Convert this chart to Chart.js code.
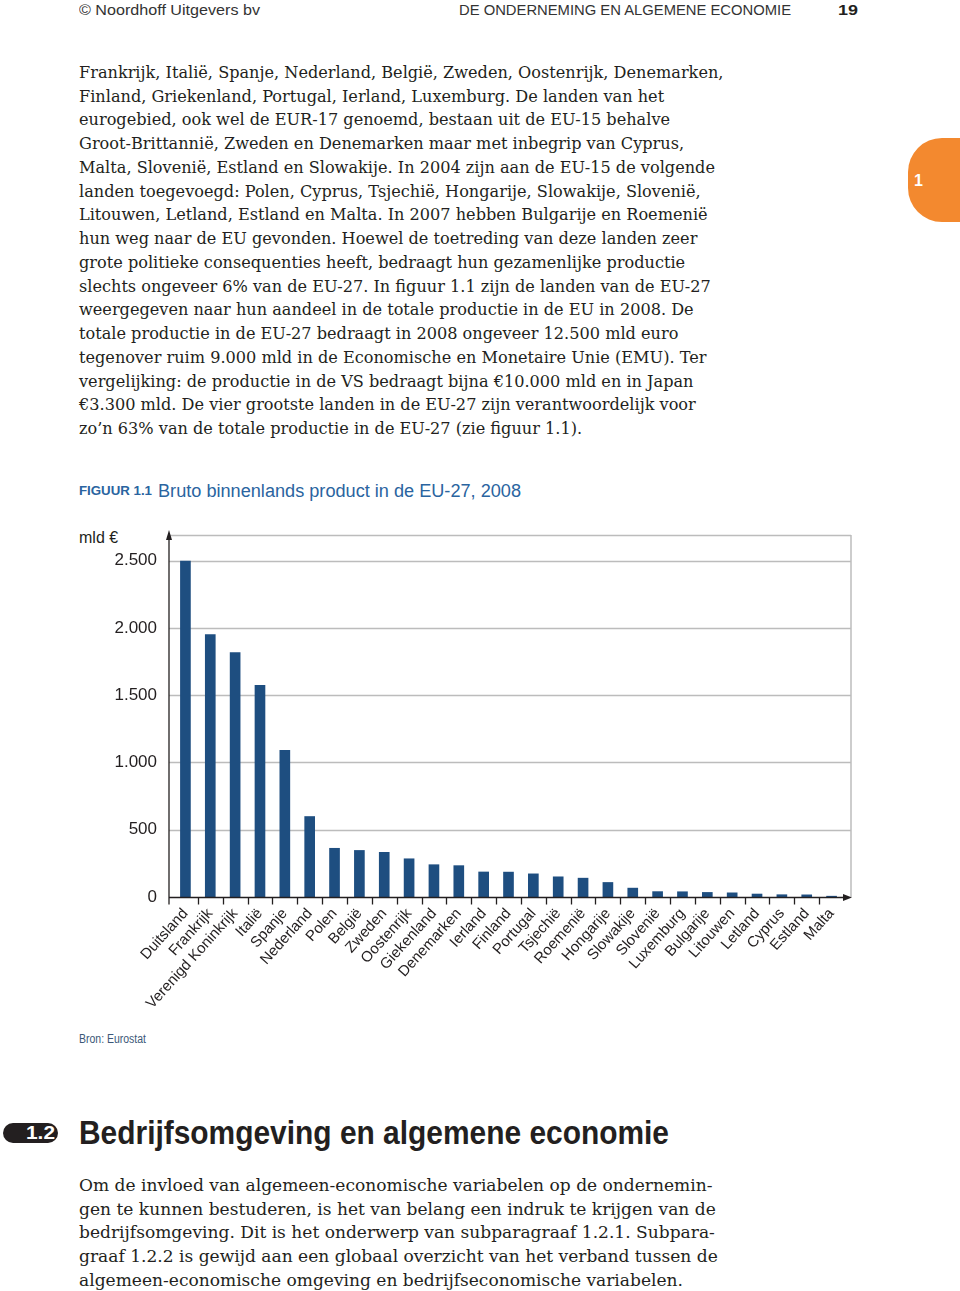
<!DOCTYPE html>
<html>
<head>
<meta charset="utf-8">
<script src="https://cdn.jsdelivr.net/npm/chart.js@4.4.1/dist/chart.umd.min.js"></script>
<style>
  body { margin: 0; width: 960px; height: 1291px; position: relative; background: #fff; overflow: hidden; color: #231f20; }
  .abs { position: absolute; white-space: nowrap; }
  .sans { font-family: "Liberation Sans", Arial, sans-serif; }
  .hdr { font-size: 15px; line-height: 20px; top: 0; color: #333; transform-origin: left center; }
  .body { font-family: "DejaVu Serif", serif; font-size: 15.5px; line-height: 23.73px; left: 79px; color: #231f20; }
  .body div { white-space: nowrap; }
  .tab { left: 908px; top: 138px; width: 70px; height: 84px; background: #f3892f; border-radius: 34px 0 0 34px; }
  .tab span { position: absolute; left: 6px; top: 34px; color: #fff; font: bold 16px "Liberation Sans", Arial, sans-serif; }
  .cap { line-height: 22px; top: 480px; color: #2a64a0; transform-origin: left center; }
  .badge { left: 3px; top: 1123px; width: 55px; height: 20px; background: #231f20; border-radius: 10px; }
  .badge span { position: absolute; left: 23px; top: 0; line-height: 20px; color: #fff; font: bold 18px "Liberation Sans", Arial, sans-serif; transform-origin: left center; }
  #wrap { position: absolute; left: 60px; top: 509px; width: 820px; height: 505px; }
</style>
</head>
<body>

<div class="abs sans hdr" style="left:79px" data-w="181">© Noordhoff Uitgevers bv</div>
<div class="abs sans hdr" style="left:459px" data-w="332">DE ONDERNEMING EN ALGEMENE ECONOMIE</div>
<div class="abs sans hdr" style="left:838px;font-weight:bold;color:#231f20" data-w="20">19</div>

<div class="abs body" id="p1" style="top:61px">
  <div data-w="645">Frankrijk, Italië, Spanje, Nederland, België, Zweden, Oostenrijk, Denemarken,</div>
  <div>Finland, Griekenland, Portugal, Ierland, Luxemburg. De landen van het</div>
  <div>eurogebied, ook wel de EUR-17 genoemd, bestaan uit de EU-15 behalve</div>
  <div>Groot-Brittannië, Zweden en Denemarken maar met inbegrip van Cyprus,</div>
  <div>Malta, Slovenië, Estland en Slowakije. In 2004 zijn aan de EU-15 de volgende</div>
  <div>landen toegevoegd: Polen, Cyprus, Tsjechië, Hongarije, Slowakije, Slovenië,</div>
  <div>Litouwen, Letland, Estland en Malta. In 2007 hebben Bulgarije en Roemenië</div>
  <div>hun weg naar de EU gevonden. Hoewel de toetreding van deze landen zeer</div>
  <div>grote politieke consequenties heeft, bedraagt hun gezamenlijke productie</div>
  <div>slechts ongeveer 6% van de EU-27. In figuur 1.1 zijn de landen van de EU-27</div>
  <div>weergegeven naar hun aandeel in de totale productie in de EU in 2008. De</div>
  <div>totale productie in de EU-27 bedraagt in 2008 ongeveer 12.500 mld euro</div>
  <div>tegenover ruim 9.000 mld in de Economische en Monetaire Unie (EMU). Ter</div>
  <div>vergelijking: de productie in de VS bedraagt bijna €10.000 mld en in Japan</div>
  <div>€3.300 mld. De vier grootste landen in de EU-27 zijn verantwoordelijk voor</div>
  <div>zo’n 63% van de totale productie in de EU-27 (zie figuur 1.1).</div>
</div>

<div class="abs tab"><span>1</span></div>

<div class="abs sans cap" style="left:79px;font-size:13px;font-weight:bold" data-w="73">FIGUUR 1.1</div>
<div class="abs sans cap" style="left:158px;font-size:18px" data-w="363">Bruto binnenlands product in de EU-27, 2008</div>

<div class="abs sans" style="left:79px;top:528px;font-size:16px;line-height:20px;color:#231f20">mld €</div>

<div id="wrap"><canvas id="gdpChart" width="820" height="505"></canvas></div>

<div class="abs sans" style="left:79px;top:1031px;font-size:12px;line-height:16px;color:#3b5878;transform-origin:left center" data-w="67">Bron: Eurostat</div>

<div class="abs badge"><span data-w="29">1.2</span></div>
<div class="abs sans" style="left:79px;top:1112px;font-size:34px;line-height:40px;font-weight:bold;color:#231f20;transform-origin:left center" data-w="590">Bedrijfsomgeving en algemene economie</div>

<div class="abs body" id="p2" style="top:1174px">
  <div data-w="634">Om de invloed van algemeen-economische variabelen op de ondernemin-</div>
  <div>gen te kunnen bestuderen, is het van belang een indruk te krijgen van de</div>
  <div>bedrijfsomgeving. Dit is het onderwerp van subparagraaf 1.2.1. Subpara-</div>
  <div>graaf 1.2.2 is gewijd aan een globaal overzicht van het verband tussen de</div>
  <div>algemeen-economische omgeving en bedrijfseconomische variabelen.</div>
</div>

<script>
const countries = ["Duitsland", "Frankrijk", "Verenigd Koninkrijk", "Italië", "Spanje", "Nederland",
  "Polen", "België", "Zweden", "Oostenrijk", "Giekenland", "Denemarken", "Ierland", "Finland",
  "Portugal", "Tsjechië", "Roemenië", "Hongarije", "Slowakije", "Slovenië", "Luxemburg",
  "Bulgarije", "Litouwen", "Letland", "Cyprus", "Estland", "Malta"];
const gdp = [2496, 1950, 1816, 1572, 1090, 598, 362, 346, 332, 284, 240, 233, 186, 185,
  172, 150, 140, 108, 66, 40, 39, 34, 31, 22, 17, 16, 6];
const yTicks = [0, 500, 1000, 1500, 2000, 2500];
const yMax = 2690;

// scale the text blocks to the widths measured on the page
document.querySelectorAll('[data-w]').forEach(function (el) {
  if (el.parentElement.classList.contains('body')) return;
  const w = el.getBoundingClientRect().width;
  el.style.transform = 'scaleX(' + (el.dataset.w / w) + ')';
});
['p1', 'p2'].forEach(function (id) {
  const block = document.getElementById(id);
  const first = block.querySelector('[data-w]');
  first.style.display = 'inline-block';
  const fs = parseFloat(getComputedStyle(block).fontSize);
  const w = first.getBoundingClientRect().width;
  block.style.fontSize = (fs * first.dataset.w / w) + 'px';
  first.style.display = '';
});

function fmt(v) {
  return String(v).replace(/\B(?=(\d{3})+(?!\d))/g, '.');
}

const axisPlugin = {
  id: 'bookAxes',
  beforeDatasetsDraw(chart) {
    const c = chart.ctx, a = chart.chartArea, y = chart.scales.y;
    const x0 = a.left - 4, x1 = a.right + 7;
    c.save();
    c.strokeStyle = '#bcbcbc';
    c.lineWidth = 1.5;
    y.ticks.forEach(function (t) {
      if (t.value === 0) return;
      const py = Math.round(y.getPixelForValue(t.value)) + 0.5;
      c.beginPath(); c.moveTo(x0, py); c.lineTo(x1, py); c.stroke();
    });
    c.beginPath();
    c.moveTo(x1, y.getPixelForValue(yMax));
    c.lineTo(x1, y.getPixelForValue(0));
    c.stroke();
    c.restore();
  },
  afterDatasetsDraw(chart) {
    const c = chart.ctx, a = chart.chartArea, x = chart.scales.x, y = chart.scales.y;
    const x0 = a.left - 4, x1 = a.right + 8;
    const by = Math.round(y.getPixelForValue(0)) + 0.5;
    const ty = y.getPixelForValue(yMax);
    c.save();
    c.strokeStyle = '#231f20';
    c.fillStyle = '#231f20';
    c.lineWidth = 1.3;
    // y axis with arrow
    c.beginPath(); c.moveTo(x0, by + 7); c.lineTo(x0, ty - 2); c.stroke();
    c.beginPath(); c.moveTo(x0, ty - 5); c.lineTo(x0 - 3, ty + 5); c.lineTo(x0 + 3, ty + 5); c.closePath(); c.fill();
    // x axis with arrow
    c.beginPath(); c.moveTo(x0, by); c.lineTo(x1 - 4, by); c.stroke();
    c.beginPath(); c.moveTo(x1, by); c.lineTo(x1 - 9, by - 3.5); c.lineTo(x1 - 9, by + 3.5); c.closePath(); c.fill();
    // tick marks between categories
    for (let i = 1; i < countries.length; i++) {
      const px = Math.round((x.getPixelForValue(i - 1) + x.getPixelForValue(i)) / 2) + 0.5;
      c.beginPath(); c.moveTo(px, by); c.lineTo(px, by + 7); c.stroke();
    }
    c.restore();
  }
};

new Chart(document.getElementById('gdpChart'), {
  type: 'bar',
  data: {
    labels: countries,
    datasets: [{
      data: gdp,
      backgroundColor: '#1e4e80',
      barThickness: 10
    }]
  },
  options: {
    responsive: false,
    animation: false,
    devicePixelRatio: 1,
    layout: { padding: { top: 26, right: 36, left: 0, bottom: 0 } },
    plugins: { legend: { display: false }, tooltip: { enabled: false } },
    scales: {
      x: {
        grid: { display: false },
        border: { display: false },
        ticks: {
          autoSkip: false,
          minRotation: 48,
          maxRotation: 48,
          padding: 0,
          color: '#231f20',
          font: { family: 'Liberation Sans', size: 15 }
        },
        afterFit(scale) { scale.height = 117; }
      },
      y: {
        min: 0,
        max: yMax,
        grid: { display: false },
        border: { display: false },
        afterBuildTicks(scale) {
          scale.ticks = yTicks.concat([yMax]).map(function (v) { return { value: v }; });
        },
        ticks: {
          padding: 8,
          color: '#231f20',
          font: { family: 'Liberation Sans', size: 17 },
          callback: function (v) { return v === yMax ? '' : fmt(v); }
        },
        afterFit(scale) { scale.width = 113; }
      }
    }
  },
  plugins: [axisPlugin]
});
</script>
</body>
</html>
